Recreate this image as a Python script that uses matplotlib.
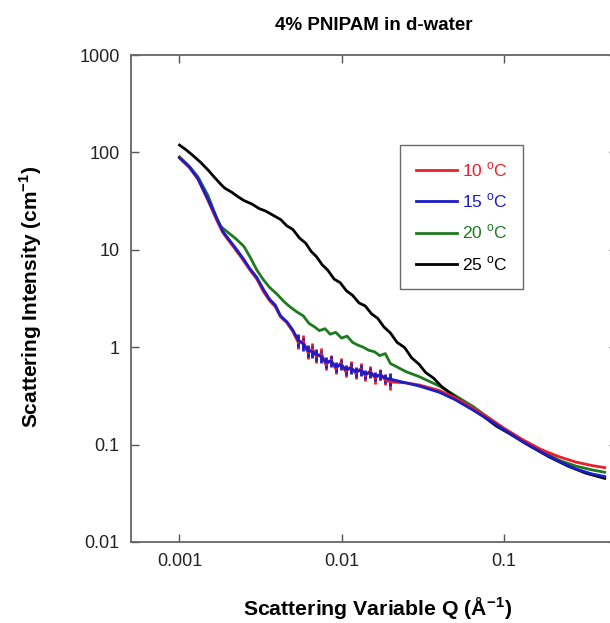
import matplotlib
matplotlib.use("Agg")
import matplotlib.pyplot as plt
from matplotlib.lines import Line2D
import numpy as np

plt.rcParams['font.family'] = ['Liberation Sans', 'DejaVu Sans']
plt.rcParams['mathtext.fontset'] = 'custom'
plt.rcParams['mathtext.rm'] = 'Liberation Sans'
plt.rcParams['mathtext.bf'] = 'Liberation Sans:bold'

# ---------------- data ----------------
# 10 C (red): noisy low-Q part + smooth high-Q part
q10 = [0.00100, 0.00115, 0.00130, 0.00150, 0.00170, 0.00185, 0.00200, 0.00220, 0.00245,
       0.00270, 0.00300, 0.00330, 0.00360, 0.00390, 0.00420, 0.00460, 0.00500, 0.00540,
       0.00580, 0.00620, 0.00660, 0.00700, 0.00750, 0.00800, 0.00860, 0.00920, 0.00990,
       0.01060, 0.01140, 0.01220, 0.01310, 0.01400, 0.01500, 0.01610, 0.01730, 0.01860,
       0.02000, 0.02500, 0.03000, 0.04000, 0.05000, 0.06500, 0.08000, 0.10000, 0.13000,
       0.17000, 0.22000, 0.28000, 0.35000, 0.42000]
i10 = [88, 70, 53, 32, 20, 15.0, 12.6, 10.2, 8.0,
       6.3, 5.0, 3.7, 3.0, 2.6, 2.05, 1.78, 1.45, 1.12,
       1.15, 0.88, 0.96, 0.80, 0.86, 0.66, 0.74, 0.60, 0.69,
       0.56, 0.63, 0.54, 0.60, 0.51, 0.57, 0.48, 0.53, 0.46,
       0.44, 0.43, 0.41, 0.36, 0.305, 0.235, 0.19, 0.148, 0.113,
       0.089, 0.075, 0.066, 0.061, 0.058]
e10 = [0, 0, 0, 0, 0, 0, 0, 0, 0,
       0, 0, 0, 0, 0, 0, 0, 0, 0.10,
       0.10, 0.09, 0.10, 0.09, 0.10, 0.08, 0.09, 0.08, 0.09,
       0.08, 0.09, 0.08, 0.09, 0.08, 0.09, 0.08, 0.09, 0.08,
       0.12, 0, 0, 0, 0, 0, 0, 0, 0,
       0, 0, 0, 0, 0]

# 15 C (blue)
q15 = [0.00100, 0.00115, 0.00130, 0.00150, 0.00170, 0.00185, 0.00200, 0.00220, 0.00245,
       0.00270, 0.00300, 0.00330, 0.00360, 0.00390, 0.00420, 0.00460, 0.00500, 0.00540,
       0.00580, 0.00620, 0.00660, 0.00700, 0.00750, 0.00800, 0.00860, 0.00920, 0.00990,
       0.01060, 0.01140, 0.01220, 0.01310, 0.01400, 0.01500, 0.01610, 0.01730, 0.01860,
       0.02000, 0.02500, 0.03000, 0.04000, 0.05000, 0.06500, 0.08000, 0.10000, 0.13000,
       0.17000, 0.22000, 0.28000, 0.35000, 0.42000]
i15 = [88, 71, 54, 33, 21, 15.5, 13.0, 10.6, 8.3,
       6.5, 5.2, 3.9, 3.1, 2.7, 2.1, 1.82, 1.50, 1.18,
       1.08, 0.92, 0.90, 0.84, 0.80, 0.70, 0.72, 0.63, 0.66,
       0.59, 0.61, 0.56, 0.58, 0.53, 0.55, 0.50, 0.52, 0.48,
       0.47, 0.43, 0.40, 0.345, 0.29, 0.225, 0.182, 0.143, 0.108,
       0.084, 0.067, 0.056, 0.050, 0.047]
e15 = [0, 0, 0, 0, 0, 0, 0, 0, 0,
       0, 0, 0, 0, 0, 0, 0, 0, 0.10,
       0.10, 0.09, 0.09, 0.09, 0.09, 0.08, 0.08, 0.08, 0.08,
       0.08, 0.08, 0.08, 0.08, 0.07, 0.08, 0.07, 0.08, 0.07,
       0.10, 0, 0, 0, 0, 0, 0, 0, 0,
       0, 0, 0, 0, 0]

# 20 C (green)
q20 = [0.00100, 0.00115, 0.00130, 0.00150, 0.00170, 0.00180, 0.00200, 0.00225, 0.00250,
       0.00275, 0.00300, 0.00330, 0.00360, 0.00400, 0.00440, 0.00480, 0.00530, 0.00580,
       0.00630, 0.00680, 0.00730, 0.00790, 0.00850, 0.00920, 0.01000, 0.01080, 0.01170,
       0.01260, 0.01360, 0.01470, 0.01590, 0.01720, 0.01860, 0.02000, 0.02500, 0.03000,
       0.04000, 0.05000, 0.06500, 0.08000, 0.10000, 0.13000, 0.17000, 0.22000, 0.28000,
       0.35000, 0.42000]
i20 = [90, 72, 56, 36, 21, 17.3, 15.0, 12.8, 10.8,
       8.2, 6.2, 4.9, 4.1, 3.5, 2.95, 2.6, 2.3, 2.1,
       1.75, 1.62, 1.48, 1.55, 1.36, 1.42, 1.24, 1.30, 1.12,
       1.05, 1.00, 0.93, 0.90, 0.82, 0.86, 0.68, 0.56, 0.50,
       0.40, 0.32, 0.245, 0.19, 0.146, 0.112, 0.087, 0.069, 0.060,
       0.055, 0.052]

# 25 C (black)
q25 = [0.00100, 0.00110, 0.00120, 0.00135, 0.00150, 0.00165, 0.00180, 0.00190, 0.00210,
       0.00230, 0.00250, 0.00280, 0.00310, 0.00340, 0.00380, 0.00420, 0.00460, 0.00500,
       0.00550, 0.00600, 0.00650, 0.00700, 0.00760, 0.00820, 0.00900, 0.00980, 0.01070,
       0.01170, 0.01280, 0.01400, 0.01530, 0.01670, 0.01820, 0.02000, 0.02200, 0.02450,
       0.02700, 0.03000, 0.03300, 0.03700, 0.04100, 0.05000, 0.06000, 0.07500, 0.09000,
       0.11000, 0.14000, 0.19000, 0.25000, 0.32000, 0.42000]
i25 = [119, 106, 94, 79, 66, 55, 47, 43, 39,
       35, 32, 29.5, 26.5, 25, 22.5, 20.5, 17.6, 16.2,
       13.2, 11.7, 9.6, 8.5, 7.0, 6.2, 5.0, 4.6, 3.8,
       3.4, 2.85, 2.65, 2.2, 1.98, 1.62, 1.40, 1.12, 0.99,
       0.78, 0.67, 0.55, 0.48, 0.40, 0.31, 0.25, 0.195, 0.155,
       0.128, 0.100, 0.075, 0.060, 0.051, 0.045]

labels = ['10 $^{\\mathrm{o}}$C', '15 $^{\\mathrm{o}}$C', '20 $^{\\mathrm{o}}$C', '25 $^{\\mathrm{o}}$C']
colors = ['#e8202a', '#1c1cc8', '#1e7a1e', '#000000']
xticks = [0.001, 0.01, 0.1]
xticklabels = ['0.001', '0.01', '0.1']
yticks = [0.01, 0.1, 1, 10, 100, 1000]
yticklabels = ['0.01', '0.1', '1', '10', '100', '1000']

# ---------------- plot ----------------
W, H = 610, 623
fig = plt.figure(figsize=(W / 100, H / 100), dpi=100)
left, right, top, bottom = 130.7, 617.0, 55.0, 542.0
ax = fig.add_axes([left / W, 1 - bottom / H, (right - left) / W, (bottom - top) / H])

ax.errorbar(q10, i10, yerr=np.array(e10) * np.array(i10) * 1.5, color=colors[0], lw=2, elinewidth=2, capsize=0)
ax.errorbar(q15, i15, yerr=np.array(e15) * np.array(i15) * 1.5, color=colors[1], lw=2, elinewidth=2, capsize=0)
ax.plot(q20, i20, color=colors[2], lw=2)
ax.plot(q25, i25, color=colors[3], lw=2)

ax.set_xscale('log')
ax.set_yscale('log')
ax.set_xlim(0.0005, 0.5)
ax.set_ylim(0.01, 1000)
ax.set_xticks(xticks)
ax.set_xticklabels(xticklabels)
ax.set_yticks(yticks)
ax.set_yticklabels(yticklabels)
ax.minorticks_off()
ax.tick_params(which='both', direction='in', length=6, width=1, colors='#555555',
               labelcolor='#222222', labelsize=13, pad=8, top=True, right=True)
for s in ax.spines.values():
    s.set_color('#666666')
    s.set_linewidth(1.3)

handles = [Line2D([], [], color=c, lw=2) for c in colors]
leg = ax.legend(handles, labels, loc='upper left',
                bbox_to_anchor=((400 - left) / (right - left), 1 - (145 - top) / (bottom - top)),
                frameon=True, fancybox=False, edgecolor='#444444', fontsize=12.5,
                handlelength=2.4, handletextpad=0.25, labelspacing=0.72, borderpad=0.9,
                borderaxespad=0)
leg.get_frame().set_linewidth(1.0)
for txt, c in zip(leg.get_texts(), colors):
    txt.set_color(c)

fig.text(374 / W, 1 - 25 / H, '4% PNIPAM in d-water', ha='center', va='center',
         fontsize=13.5, fontweight='bold')
fig.text(378 / W, 1 - 609 / H, 'Scattering Variable Q (Å$^{\\mathbf{-1}}$)', ha='center', va='center',
         fontsize=15.3, fontweight='bold')
fig.text(31 / W, 1 - 297 / H, 'Scattering Intensity (cm$^{\\mathbf{-1}}$)', ha='center', va='center',
         rotation=90, fontsize=15, fontweight='bold')

fig.savefig('out.png', dpi=100)
